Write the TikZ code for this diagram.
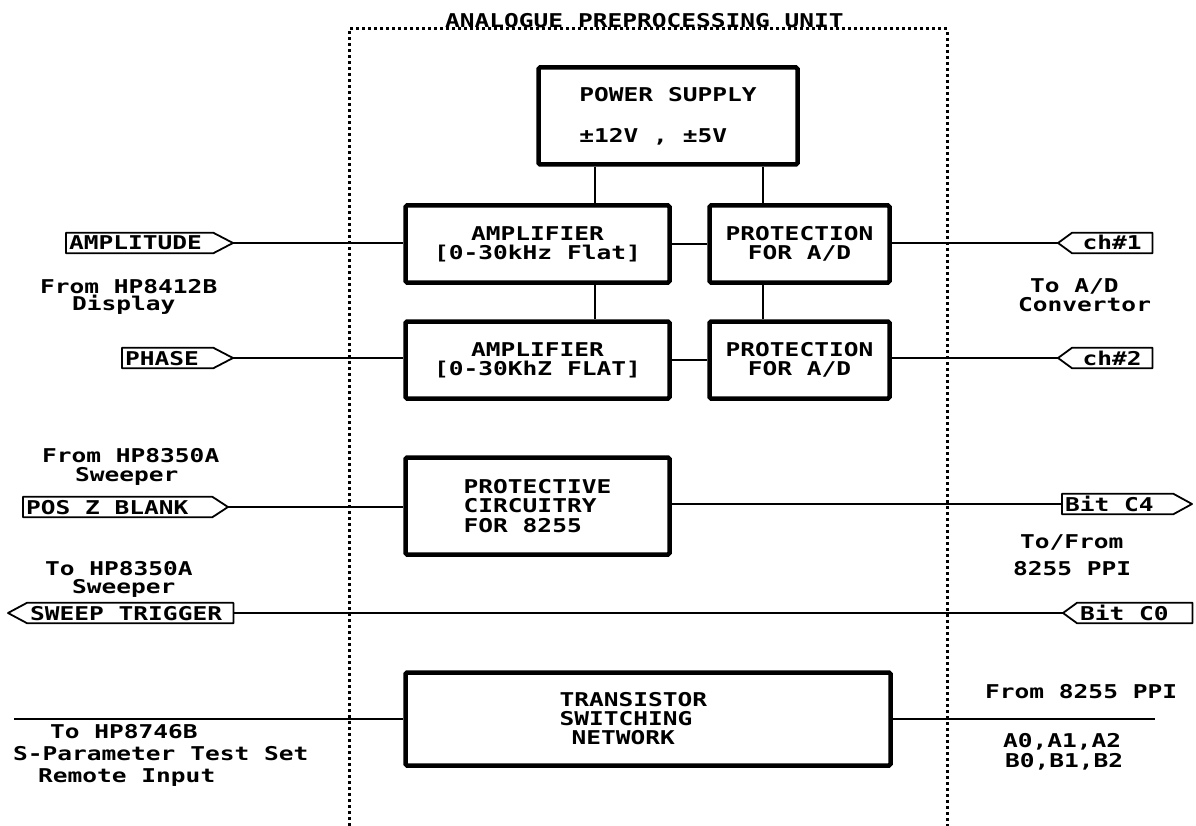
\documentclass[tikz,border=0pt]{standalone}
\usepackage{fontspec}
\newfontfamily\plotfam[FakeStretch=1.29]{DejaVu Sans Mono}
\newcommand\plotfont{\plotfam\bfseries\fontsize{19}{19}\selectfont}
\tikzset{
  blk/.style={draw, line width=4.5pt, rounded corners=1.5pt, align=center, font=\plotfont, inner sep=0pt},
  wire/.style={line width=1.8pt},
  tagbox/.style={font=\plotfont, text height=14pt, text depth=0pt, inner xsep=3pt, inner ysep=3pt},
  tagline/.style={line width=1.8pt, line join=round},
  lbl/.style={font=\plotfont, inner sep=0pt, anchor=base west},
  unitframe/.style={line width=3pt, dash pattern=on 3pt off 3pt},
}
\begin{document}
\begin{tikzpicture}[x=1pt,y=-1pt]
\useasboundingbox (0,0) rectangle (1196,826);
% frame
\coordinate (fbl) at (349,826);
\coordinate (ftl) at (349,29);
\coordinate (ftr) at (947,29);
\coordinate (fbr) at (947,826);
\draw[unitframe] (fbl) -- (ftl) -- (ftr) -- (fbr);
\node[lbl] (title) at (445,28) {ANALOGUE PREPROCESSING UNIT};

% blocks
\node[blk, minimum width=259, minimum height=97, align=left] (ps) at (668,116) {POWER SUPPLY\\[22pt]±12V , ±5V\hspace*{24pt}};
\node[blk, minimum width=264, minimum height=77] (amp1) at (537.5,244) {AMPLIFIER\\{[}0-30kHz Flat{]}};
\node[blk, minimum width=180, minimum height=77] (prot1) at (799.5,244) {PROTECTION\\FOR A/D};
\node[blk, minimum width=264, minimum height=77] (amp2) at (537.5,360) {AMPLIFIER\\{[}0-30KhZ FLAT{]}};
\node[blk, minimum width=180, minimum height=77] (prot2) at (799.5,360) {PROTECTION\\FOR A/D};
\node[blk, minimum width=264, minimum height=97, align=left] (pc) at (537.5,506) {PROTECTIVE\\[0.5pt]CIRCUITRY\\[0.5pt]FOR 8255};
\node[blk, minimum width=485, minimum height=93, align=left] (ts) at (648,719) {\makebox[177pt][l]{TRANSISTOR}\\SWITCHING\\\hspace*{12pt}NETWORK};

% internal connections
\draw[wire] (595,0 |- ps.south) -- (595,0 |- amp1.north);
\draw[wire] (763,0 |- ps.south) -- (763,0 |- prot1.north);
\draw[wire] (595,0 |- amp1.south) -- (595,0 |- amp2.north);
\draw[wire] (763,0 |- prot1.south) -- (763,0 |- prot2.north);
\draw[wire] (amp1.east) -- (prot1.west);
\draw[wire] (amp2.east) -- (prot2.west);

% right-pointing tags
\node[tagbox, anchor=west] (tA) at (66,243) {\makebox[141pt][l]{AMPLITUDE}};
\coordinate (tAt) at (233,243);
\draw[tagline] (tA.north west) -- (tA.north east) -- (tAt) -- (tA.south east) -- (tA.south west) -- cycle;

\node[tagbox, anchor=west] (tP) at (122,358) {\makebox[85pt][l]{PHASE}};
\coordinate (tPt) at (233,358);
\draw[tagline] (tP.north west) -- (tP.north east) -- (tPt) -- (tP.south east) -- (tP.south west) -- cycle;

\node[tagbox, anchor=west] (tZ) at (23,507) {\makebox[183pt][l]{POS Z BLANK}};
\coordinate (tZt) at (228,507);
\draw[tagline] (tZ.north west) -- (tZ.north east) -- (tZt) -- (tZ.south east) -- (tZ.south west) -- cycle;

\node[tagbox, anchor=west] (tC4) at (1062,504) {\makebox[105pt][l]{Bit C4}};
\coordinate (tC4t) at (1192,504);
\draw[tagline] (tC4.north west) -- (tC4.north east) -- (tC4t) -- (tC4.south east) -- (tC4.south west) -- cycle;

% left-pointing tags
\node[tagbox, anchor=west] (t1) at (1072,243) {\makebox[74pt]{ch\#1}};
\coordinate (t1t) at (1058,243);
\draw[tagline] (t1.north east) -- (t1.north west) -- (t1t) -- (t1.south west) -- (t1.south east) -- cycle;

\node[tagbox, anchor=west] (t2) at (1072,358) {\makebox[74pt]{ch\#2}};
\coordinate (t2t) at (1058,358);
\draw[tagline] (t2.north east) -- (t2.north west) -- (t2t) -- (t2.south west) -- (t2.south east) -- cycle;

\node[tagbox, anchor=west] (tS) at (27,613) {\makebox[200pt][l]{SWEEP TRIGGER}};
\coordinate (tSt) at (8,613);
\draw[tagline] (tS.north east) -- (tS.north west) -- (tSt) -- (tS.south west) -- (tS.south east) -- cycle;

\node[tagbox, anchor=west] (tC0) at (1077,613) {\makebox[109pt][l]{Bit C0}};
\coordinate (tC0t) at (1063,613);
\draw[tagline] (tC0.north east) -- (tC0.north west) -- (tC0t) -- (tC0.south west) -- (tC0.south east) -- cycle;

% external connections
\draw[wire] (tAt) -- (tAt -| amp1.west);
\draw[wire] (tPt) -- (tPt -| amp2.west);
\draw[wire] (t1t -| prot1.east) -- (t1t);
\draw[wire] (t2t -| prot2.east) -- (t2t);
\draw[wire] (tZt) -- (tZt -| pc.west);
\draw[wire] (tC4.west -| pc.east) -- (tC4.west);
\draw[wire] (tS.east) -- (tC0t);
\coordinate (tsL) at (14,719);
\coordinate (tsR) at (1155,719);
\draw[wire] (tsL) -- (ts.west);
\draw[wire] (ts.east) -- (tsR);

% labels
\node[lbl] (l1a) at (40,293) {From HP8412B};
\node[lbl] (l1b) at (72,310) {Display};
\node[lbl] (r1a) at (1030,292) {To A/D};
\node[lbl] (r1b) at (1018,311) {Convertor};
\node[lbl] (l2a) at (42,462) {From HP8350A};
\node[lbl] (l2b) at (75,481) {Sweeper};
\node[lbl] (l3a) at (45,575) {To HP8350A};
\node[lbl] (l3b) at (72,593) {Sweeper};
\node[lbl] (r2a) at (1020,548) {To/From};
\node[lbl] (r2b) at (1013,575) {8255 PPI};
\node[lbl] (l4a) at (50,738) {To HP8746B};
\node[lbl] (l4b) at (13,760) {S-Parameter Test Set};
\node[lbl] (l4c) at (38,782) {Remote Input};
\node[lbl] (r3a) at (985,698) {From 8255 PPI};
\node[lbl] (r3b) at (1003,747) {A0,A1,A2};
\node[lbl] (r3c) at (1005,767) {B0,B1,B2};
\end{tikzpicture}
\end{document}
